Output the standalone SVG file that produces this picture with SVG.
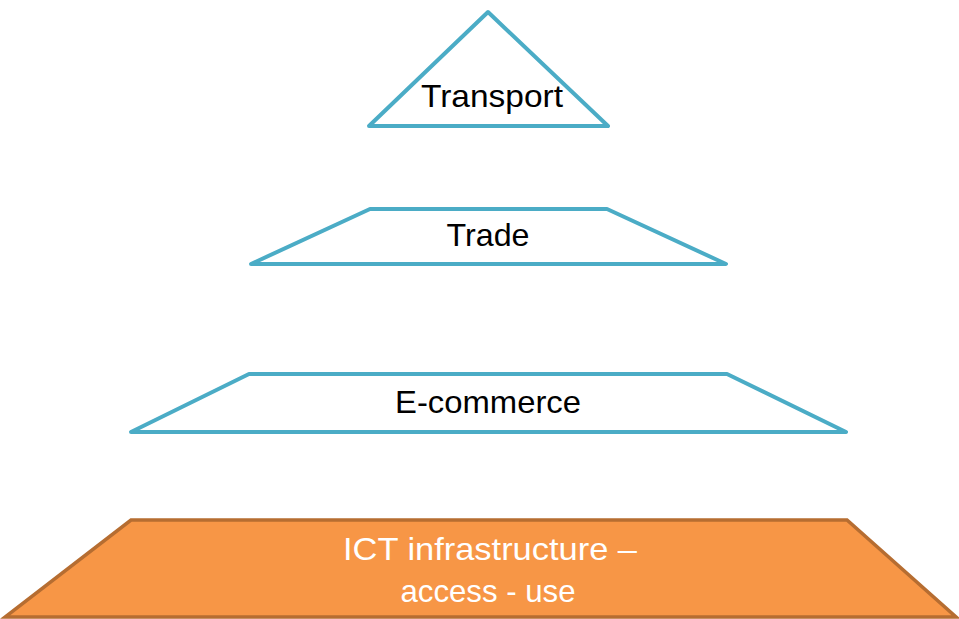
<svg xmlns="http://www.w3.org/2000/svg" width="959" height="619" viewBox="0 0 959 619">
  <style>
    .tier { fill: #FFFFFF; stroke: #4BACC6; stroke-width: 4; stroke-linejoin: round; }
    .base { fill: #F79646; stroke: #B66D31; stroke-width: 3.5; stroke-linejoin: miter; }
    .lbl { font-family: "Liberation Sans", Arial, sans-serif; font-size: 32px; text-anchor: middle; fill: #000000; }
    .lbl-w { fill: #FFFFFF; }
  </style>
  <rect width="959" height="619" fill="#FFFFFF"/>

  <g id="transport">
    <polygon class="tier" points="488,12 608,126 369,126"/>
    <text class="lbl" x="492" y="107" textLength="142" lengthAdjust="spacingAndGlyphs">Transport</text>
  </g>

  <g id="trade">
    <polygon class="tier" points="370,209 607,209 726,264 251,264"/>
    <text class="lbl" x="488" y="246" textLength="83" lengthAdjust="spacingAndGlyphs">Trade</text>
  </g>

  <g id="ecommerce">
    <polygon class="tier" points="249,374 727,374 846,432 131,432"/>
    <text class="lbl" x="488" y="413" textLength="186" lengthAdjust="spacingAndGlyphs">E-commerce</text>
  </g>

  <g id="ict">
    <polygon class="base" points="131,520 847,520 956,617 5,617"/>
    <text class="lbl lbl-w" x="490" y="560" textLength="294" lengthAdjust="spacingAndGlyphs">ICT infrastructure –</text>
    <text class="lbl lbl-w" x="488" y="602" textLength="175" lengthAdjust="spacingAndGlyphs">access - use</text>
  </g>

  <g id="connectors"/>
</svg>
